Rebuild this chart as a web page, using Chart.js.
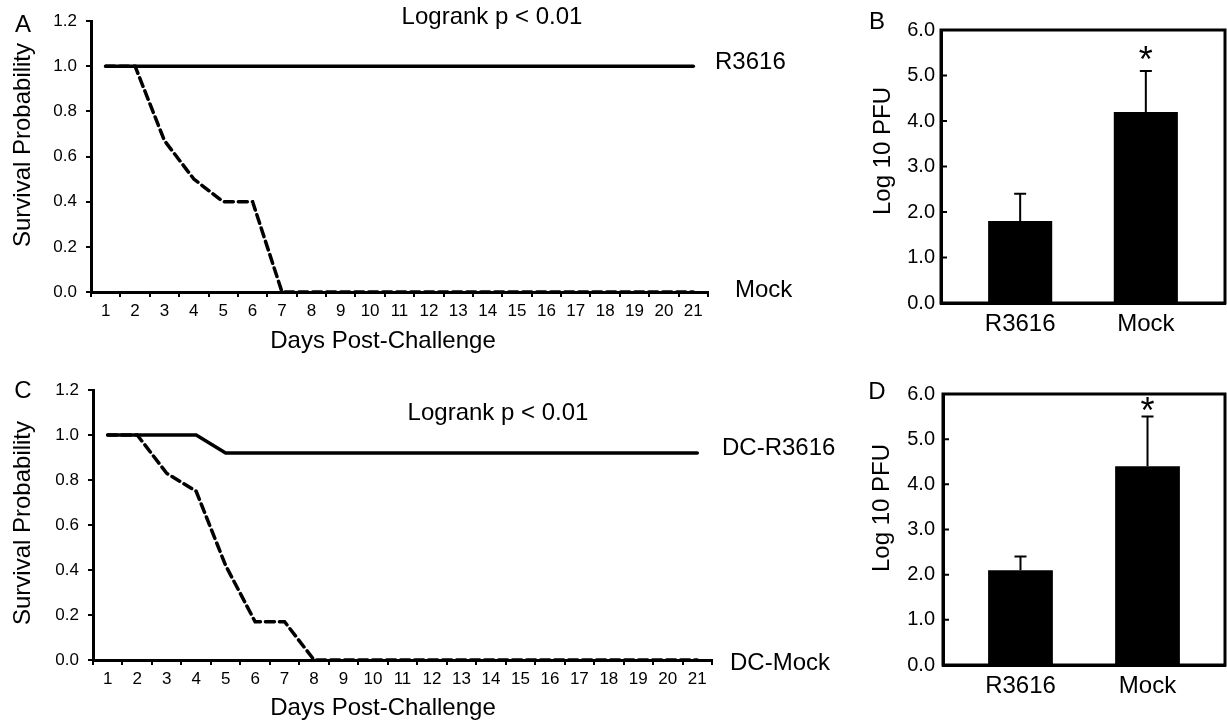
<!DOCTYPE html>
<html>
<head>
<meta charset="utf-8">
<script src="https://cdn.jsdelivr.net/npm/chart.js@4.4.1/dist/chart.umd.min.js"></script>
<style>
  body { margin: 0; background: #fff; }
  #fig { position: relative; width: 1227px; height: 722px; }
  #fig canvas { position: absolute; }
</style>
</head>
<body>
<div id="fig">
  <canvas id="chartA" width="840" height="361" style="left:0;top:0"></canvas>
  <canvas id="chartB" width="387" height="361" style="left:840px;top:0"></canvas>
  <canvas id="chartC" width="840" height="361" style="left:0;top:361px"></canvas>
  <canvas id="chartD" width="387" height="361" style="left:840px;top:361px"></canvas>
</div>
<script>
// survival curves (panels A, C)
const days = ['1', '2', '3', '4', '5', '6', '7', '8', '9', '10', '11',
              '12', '13', '14', '15', '16', '17', '18', '19', '20', '21'];
const survA_R3616 = [1, 1, 1, 1, 1, 1, 1, 1, 1, 1, 1, 1, 1, 1, 1, 1, 1, 1, 1, 1, 1];
const survA_Mock  = [1, 1, 0.67, 0.5, 0.4, 0.4, 0, 0, 0, 0, 0, 0, 0, 0, 0, 0, 0, 0, 0, 0, 0];
const survC_DCR3616 = [1, 1, 1, 1, 0.92, 0.92, 0.92, 0.92, 0.92, 0.92, 0.92,
                       0.92, 0.92, 0.92, 0.92, 0.92, 0.92, 0.92, 0.92, 0.92, 0.92];
const survC_DCMock  = [1, 1, 0.83, 0.75, 0.42, 0.17, 0.17, 0, 0, 0, 0, 0, 0, 0, 0, 0, 0, 0, 0, 0, 0];

// viral titres (panels B, D)
const groups = ['R3616', 'Mock'];
const pfuB = [1.8, 4.2];
const pfuB_err = [0.6, 0.9];
const pfuD = [2.1, 4.4];
const pfuD_err = [0.3, 1.1];
const signif = ['', '*'];

const FONT = '"Liberation Sans", Arial, Helvetica, sans-serif';
Chart.defaults.font.family = FONT;
Chart.defaults.color = '#000';

// free text: panel letters, axis titles, logrank note, curve names at the right end
const figureText = {
    id: 'figureText',
    afterDraw: function(chart, args, opts) {
        const ctx = chart.ctx;
        ctx.save();
        ctx.fillStyle = '#000';
        ctx.textBaseline = 'middle';
        (opts.items || []).forEach(t => {
            ctx.font = t.size + 'px ' + FONT;
            ctx.textAlign = t.align || 'center';
            if (t.rotate) {
                ctx.save();
                ctx.translate(t.x, t.y);
                ctx.rotate(-Math.PI / 2);
                ctx.fillText(t.text, 0, 0);
                ctx.restore();
            } else {
                ctx.fillText(t.text, t.x, t.y);
            }
        });
        if (opts.seriesLabels) {
            const y = chart.scales.y;
            ctx.font = '24px ' + FONT;
            ctx.textAlign = 'left';
            chart.data.datasets.forEach((ds, i) => {
                const o = opts.seriesLabels[i];
                const last = ds.data[ds.data.length - 1];
                ctx.fillText(ds.label, chart.chartArea.right + o.dx, y.getPixelForValue(last) + o.dy);
            });
        }
        ctx.restore();
    }
};

// box round the bar plot, with ticks pointing inward
const frame = {
    id: 'frame',
    afterDraw: function(chart) {
        const ctx = chart.ctx;
        const a = chart.chartArea;
        const y = chart.scales.y;
        ctx.save();
        ctx.strokeStyle = '#000';
        ctx.lineWidth = 3;
        ctx.strokeRect(a.left, a.top, a.right - a.left, a.bottom - a.top);
        ctx.lineWidth = 2;
        ctx.beginPath();
        y.ticks.forEach(t => {
            const py = y.getPixelForValue(t.value);
            ctx.moveTo(a.left, py);
            ctx.lineTo(a.left + 6, py);
        });
        ctx.stroke();
        ctx.restore();
    }
};

// upper error bars and significance marks
const errorBars = {
    id: 'errorBars',
    afterDatasetsDraw: function(chart, args, opts) {
        const ctx = chart.ctx;
        const y = chart.scales.y;
        const ds = chart.data.datasets[0];
        const meta = chart.getDatasetMeta(0);
        ctx.save();
        ctx.strokeStyle = '#000';
        ctx.fillStyle = '#000';
        ctx.lineWidth = 2;
        meta.data.forEach((bar, i) => {
            const top = y.getPixelForValue(ds.data[i].y + opts.errors[i]);
            ctx.beginPath();
            ctx.moveTo(bar.x, bar.y);
            ctx.lineTo(bar.x, top);
            ctx.moveTo(bar.x - 6, top);
            ctx.lineTo(bar.x + 6, top);
            ctx.stroke();
            if (opts.marks[i]) {
                ctx.font = '36px ' + FONT;
                ctx.textAlign = 'center';
                ctx.textBaseline = 'alphabetic';
                const m = ctx.measureText(opts.marks[i]);
                const target = top - opts.markGap;
                const base = target + (m.actualBoundingBoxAscent - m.actualBoundingBoxDescent) / 2;
                ctx.fillText(opts.marks[i], bar.x, base);
            }
        });
        ctx.restore();
    }
};

function survivalChart(id, labels, sets, o) {
    const ctx = document.getElementById(id).getContext('2d');
    return new Chart(ctx, {
        type: 'line',
        data: {
            labels: labels,
            datasets: sets.map(s => ({
                label: s.label,
                data: s.data,
                borderColor: '#000',
                borderWidth: 3.5,
                borderDash: s.dashed ? [9, 5] : [],
                borderCapStyle: 'round',
                pointRadius: 0,
                tension: 0,
                fill: false
            }))
        },
        options: {
            responsive: false,
            animation: false,
            layout: { padding: { left: 0, top: o.top, right: o.right, bottom: 0 } },
            plugins: {
                legend: { display: false },
                tooltip: { enabled: false },
                figureText: { items: o.items, seriesLabels: o.seriesLabels }
            },
            scales: {
                x: {
                    type: 'category',
                    offset: true,
                    grid: {
                        offset: true,
                        drawOnChartArea: false,
                        color: '#000',
                        lineWidth: 2,
                        tickLength: 5
                    },
                    border: { color: '#000', width: 3 },
                    ticks: { font: { size: 17 }, padding: 4, maxRotation: 0, autoSkip: false },
                    afterFit: function(s) { s.height = o.xHeight; }
                },
                y: {
                    min: 0,
                    max: 1.2,
                    grid: {
                        drawOnChartArea: false,
                        color: '#000',
                        lineWidth: 2,
                        tickLength: 5
                    },
                    border: { color: '#000', width: 3 },
                    ticks: {
                        stepSize: 0.2,
                        font: { size: 17 },
                        padding: 9,
                        callback: function(v) { return v.toFixed(1); }
                    },
                    afterFit: function(s) { s.width = o.yWidth; }
                }
            }
        },
        plugins: [figureText]
    });
}

function titreChart(id, values, errors, o) {
    const ctx = document.getElementById(id).getContext('2d');
    return new Chart(ctx, {
        type: 'bar',
        data: {
            datasets: [{
                data: values.map((v, i) => ({ x: i + 1, y: v })),
                backgroundColor: '#000',
                borderWidth: 0,
                categoryPercentage: 1,
                barPercentage: 0.51
            }]
        },
        options: {
            responsive: false,
            animation: false,
            layout: { padding: { left: 0, top: o.top, right: 2, bottom: 0 } },
            plugins: {
                legend: { display: false },
                tooltip: { enabled: false },
                figureText: { items: o.items },
                errorBars: { errors: errors, marks: signif, markGap: o.markGap }
            },
            scales: {
                x: {
                    type: 'linear',
                    offset: false,
                    min: o.xMin,
                    max: o.xMax,
                    grid: { drawOnChartArea: false, drawTicks: false },
                    border: { color: '#000', width: 3 },
                    ticks: {
                        stepSize: 1,
                        includeBounds: false,
                        font: { size: 24 },
                        padding: 7,
                        callback: function(v) { return groups[v - 1] || ''; }
                    },
                    afterFit: function(s) { s.height = o.xHeight; }
                },
                y: {
                    min: 0,
                    max: 6,
                    grid: { drawOnChartArea: false, drawTicks: false },
                    border: { color: '#000', width: 3 },
                    ticks: {
                        stepSize: 1,
                        font: { size: 20 },
                        padding: o.tickPad,
                        callback: function(v) { return v.toFixed(1); }
                    },
                    afterFit: function(s) { s.width = o.yWidth; }
                }
            }
        },
        plugins: [frame, errorBars, figureText]
    });
}

survivalChart('chartA', days, [
    { label: 'R3616', data: survA_R3616, dashed: false },
    { label: 'Mock', data: survA_Mock, dashed: true }
], {
    top: 21, right: 132, xHeight: 69, yWidth: 91,
    items: [
        { text: 'A', x: 23, y: 25, size: 24 },
        { text: 'Logrank p < 0.01', x: 492, y: 17, size: 24 },
        { text: 'Survival Probability', x: 23, y: 145, size: 24, rotate: true },
        { text: 'Days Post-Challenge', x: 383, y: 341, size: 24 }
    ],
    seriesLabels: [{ dx: 7, dy: -4 }, { dx: 27, dy: -2 }]
});

survivalChart('chartC', days, [
    { label: 'DC-R3616', data: survC_DCR3616, dashed: false },
    { label: 'DC-Mock', data: survC_DCMock, dashed: true }
], {
    top: 29, right: 128, xHeight: 62, yWidth: 93,
    items: [
        { text: 'C', x: 23, y: 30, size: 24 },
        { text: 'Logrank p < 0.01', x: 498, y: 52, size: 24 },
        { text: 'Survival Probability', x: 23, y: 162, size: 24, rotate: true },
        { text: 'Days Post-Challenge', x: 383, y: 347, size: 24 }
    ],
    seriesLabels: [{ dx: 10, dy: -5 }, { dx: 18, dy: 3 }]
});

titreChart('chartB', pfuB, pfuB_err, {
    top: 30, xHeight: 58, yWidth: 101, xMin: 0.37, xMax: 2.63,
    tickPad: 6, markGap: 18,
    items: [
        { text: 'B', x: 37, y: 22, size: 24 },
        { text: 'Log 10 PFU', x: 43, y: 151, size: 24, rotate: true }
    ]
});

titreChart('chartD', pfuD, pfuD_err, {
    top: 33, xHeight: 57, yWidth: 103, xMin: 0.39, xMax: 2.61,
    tickPad: 8, markGap: 13,
    items: [
        { text: 'D', x: 37, y: 31, size: 24 },
        { text: 'Log 10 PFU', x: 42, y: 147, size: 24, rotate: true }
    ]
});
</script>
</body>
</html>
